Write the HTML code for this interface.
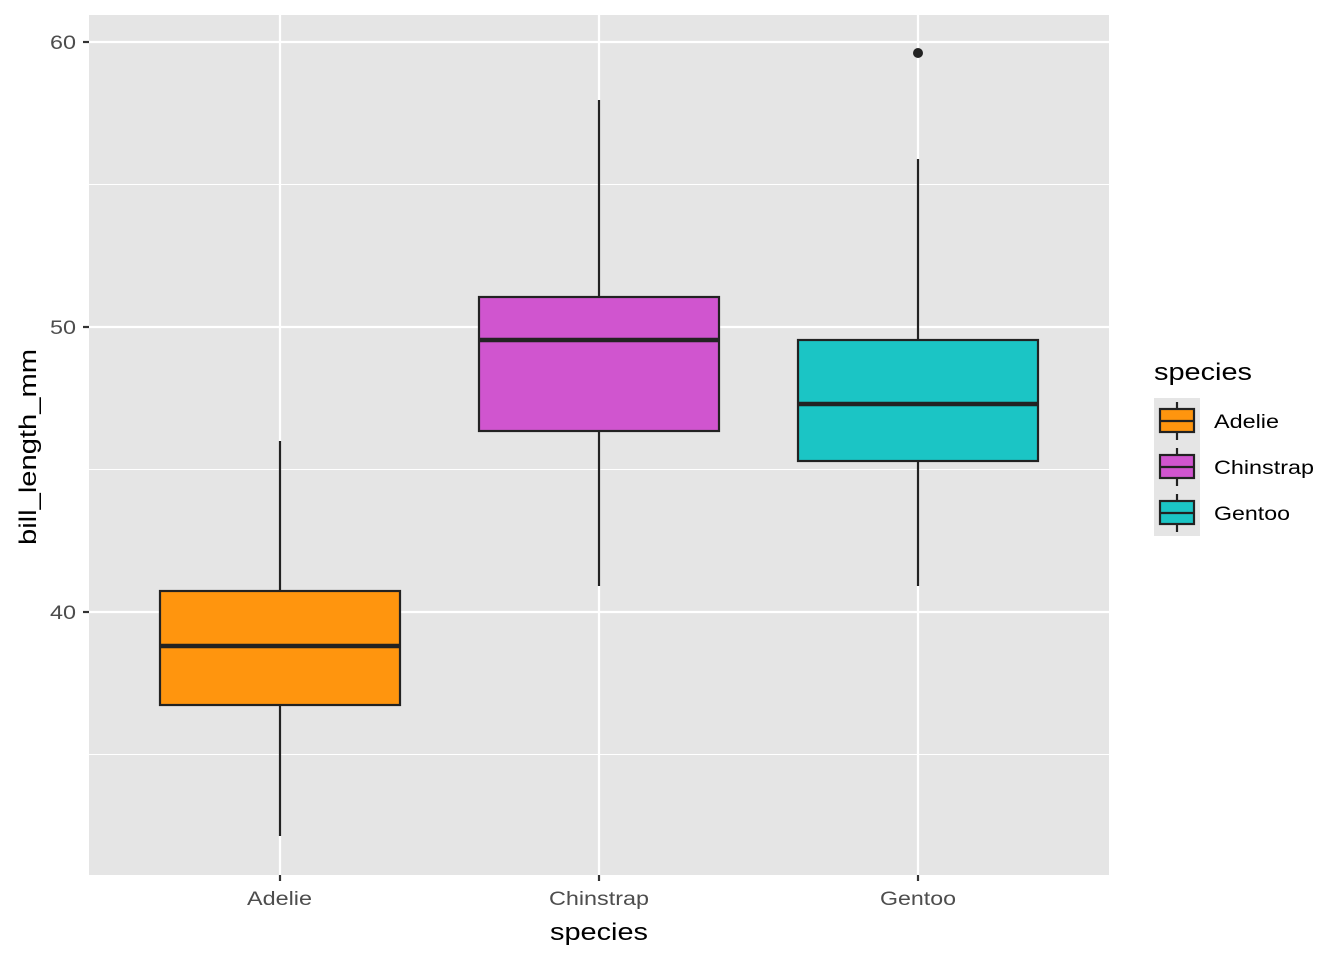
<!DOCTYPE html>
<html><head><meta charset="utf-8"><style>body{margin:0;background:#fff}</style></head><body>
<svg width="1344" height="960" xmlns="http://www.w3.org/2000/svg" font-family="Liberation Sans, sans-serif">
<rect x="89" y="15" width="1020" height="860" fill="#e5e5e5"/>
<g stroke="#fff" stroke-width="1.1">
<line x1="89" x2="1109" y1="184.5" y2="184.5"/><line x1="89" x2="1109" y1="469.5" y2="469.5"/><line x1="89" x2="1109" y1="754.5" y2="754.5"/>
</g>
<g stroke="#fff" stroke-width="2.2">
<line x1="89" x2="1109" y1="42" y2="42"/><line x1="89" x2="1109" y1="327" y2="327"/><line x1="89" x2="1109" y1="612" y2="612"/>
<line x1="280" x2="280" y1="15" y2="875"/><line x1="599" x2="599" y1="15" y2="875"/><line x1="918" x2="918" y1="15" y2="875"/>
</g>
<g stroke="#222" stroke-width="2.2">
<line x1="280" x2="280" y1="441" y2="591"/><line x1="280" x2="280" y1="705" y2="836"/>
<rect x="160" y="591" width="240" height="114" fill="#FF950E"/>
<line x1="160" x2="400" y1="646" y2="646" stroke-width="4.4"/>
<line x1="599" x2="599" y1="100" y2="297"/><line x1="599" x2="599" y1="431" y2="586"/>
<rect x="479" y="297" width="240" height="134" fill="#D055CF"/>
<line x1="479" x2="719" y1="340" y2="340" stroke-width="4.4"/>
<line x1="918" x2="918" y1="159" y2="340"/><line x1="918" x2="918" y1="461" y2="586"/>
<rect x="798" y="340" width="240" height="121" fill="#1BC5C5"/>
<line x1="798" x2="1038" y1="404" y2="404" stroke-width="4.4"/>
</g>
<circle cx="918" cy="53" r="5" fill="#222"/>
<g stroke="#333" stroke-width="2.2">
<line x1="83" x2="89" y1="42" y2="42"/><line x1="83" x2="89" y1="327" y2="327"/><line x1="83" x2="89" y1="612" y2="612"/>
<line x1="280" x2="280" y1="875" y2="881"/><line x1="599" x2="599" y1="875" y2="881"/><line x1="918" x2="918" y1="875" y2="881"/>
</g>
<g fill="#4d4d4d" font-size="19" text-anchor="end">
<text x="76" y="49" textLength="26" lengthAdjust="spacingAndGlyphs">60</text><text x="76" y="334" textLength="26" lengthAdjust="spacingAndGlyphs">50</text><text x="76" y="619" textLength="26" lengthAdjust="spacingAndGlyphs">40</text>
</g>
<g fill="#4d4d4d" font-size="19">
<text x="247" y="905" textLength="65" lengthAdjust="spacingAndGlyphs">Adelie</text><text x="549" y="905" textLength="100" lengthAdjust="spacingAndGlyphs">Chinstrap</text><text x="880" y="905" textLength="76" lengthAdjust="spacingAndGlyphs">Gentoo</text>
</g>
<text x="550" y="940" font-size="24" textLength="98" lengthAdjust="spacingAndGlyphs">species</text>
<text transform="translate(36,545) rotate(-90)" font-size="24" textLength="196" lengthAdjust="spacingAndGlyphs">bill_length_mm</text>
<text x="1154" y="380" font-size="24" textLength="98" lengthAdjust="spacingAndGlyphs">species</text>
<rect x="1154" y="398" width="46" height="138" fill="#e5e5e5"/>
<g stroke="#222" stroke-width="2.2">
<line x1="1177" x2="1177" y1="402" y2="440"/><rect x="1160" y="409" width="34" height="23" fill="#FF950E"/><line x1="1160" x2="1194" y1="421" y2="421"/>
<line x1="1177" x2="1177" y1="448" y2="486"/><rect x="1160" y="455" width="34" height="23" fill="#D055CF"/><line x1="1160" x2="1194" y1="467" y2="467"/>
<line x1="1177" x2="1177" y1="494" y2="532"/><rect x="1160" y="501" width="34" height="23" fill="#1BC5C5"/><line x1="1160" x2="1194" y1="513" y2="513"/>
</g>
<g font-size="19" fill="#000">
<text x="1214" y="428" textLength="65" lengthAdjust="spacingAndGlyphs">Adelie</text><text x="1214" y="474" textLength="100" lengthAdjust="spacingAndGlyphs">Chinstrap</text><text x="1214" y="520" textLength="76" lengthAdjust="spacingAndGlyphs">Gentoo</text>
</g>
</svg>
</body></html>
